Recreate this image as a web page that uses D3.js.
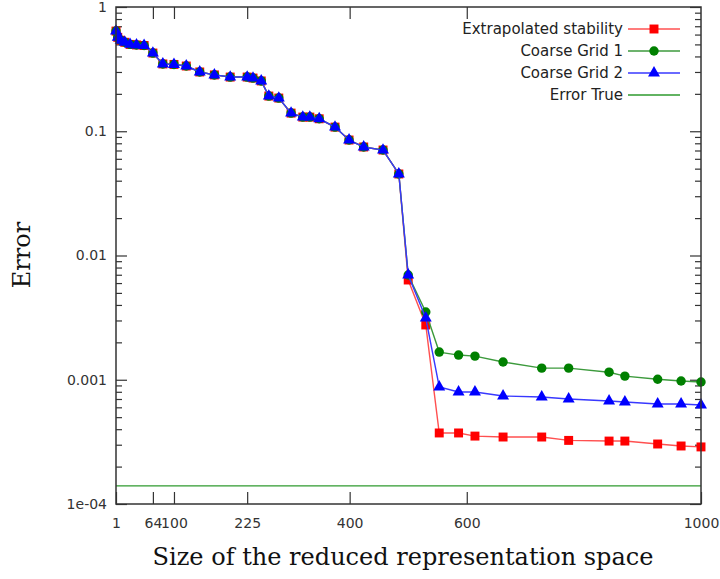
<!DOCTYPE html>
<html>
<head>
<meta charset="utf-8">
<script src="https://cdn.jsdelivr.net/npm/d3@7"></script>
<style>
  body { margin: 0; background: #fff; }
  .tick text { font-family: "DejaVu Sans", sans-serif; font-size: 14px; fill: #333; }
  .axisTitle { font-family: "DejaVu Serif", serif; font-size: 24px; fill: #111; }
  .legendText { font-family: "DejaVu Sans", sans-serif; font-size: 15px; fill: #222; }
</style>
</head>
<body>
<div class="chart"></div>
<script>
// svg size
var svgWidth = 720;
var svgHeight = 579;

// plot box
var margin = { top: 7, right: 19, bottom: 75, left: 116 };
var width = svgWidth - margin.left - margin.right;
var height = svgHeight - margin.top - margin.bottom;

// data
var sizes = [1, 4, 9, 16, 25, 36, 49, 64, 81, 100, 121, 144, 169, 196, 225, 235, 249, 262, 279, 300,
  320, 332, 348, 375, 399, 424, 457, 484, 500, 530, 553, 586, 614, 662, 728, 774, 843, 870, 926, 966, 1000];

var extrapolated = [0.64, 0.57, 0.54, 0.52, 0.50, 0.495, 0.49, 0.426, 0.348, 0.345, 0.335, 0.30, 0.284, 0.273, 0.273, 0.268, 0.254, 0.192, 0.185, 0.140,
  0.130, 0.130, 0.126, 0.108, 0.085, 0.0747, 0.0706, 0.0453, 0.00635, 0.00276, 0.000373, 0.000373, 0.000352, 0.000346, 0.000346, 0.000325, 0.000321, 0.000321, 0.000304, 0.000293, 0.000288];

var coarse1 = [0.64, 0.57, 0.54, 0.52, 0.50, 0.495, 0.49, 0.426, 0.348, 0.345, 0.335, 0.30, 0.284, 0.273, 0.273, 0.268, 0.254, 0.192, 0.185, 0.140,
  0.130, 0.130, 0.126, 0.108, 0.085, 0.0747, 0.0706, 0.0453, 0.00697, 0.00351, 0.00167, 0.00158, 0.00155, 0.00139, 0.00124, 0.00124, 0.00115, 0.00107, 0.00101, 0.000977, 0.000959];

var coarse2 = [0.64, 0.57, 0.54, 0.52, 0.50, 0.495, 0.49, 0.426, 0.348, 0.345, 0.335, 0.30, 0.284, 0.273, 0.273, 0.268, 0.254, 0.192, 0.185, 0.140,
  0.130, 0.130, 0.126, 0.108, 0.085, 0.0747, 0.0706, 0.0453, 0.00697, 0.00314, 0.000875, 0.000797, 0.000797, 0.00074, 0.000726, 0.0007, 0.000675, 0.000662, 0.000638, 0.000638, 0.000626];

var errorTrue = 1.4e-4;

var xTicks = [1, 64, 100, 225, 400, 600, 1000];
var yTicks = [1e-4, 1e-3, 1e-2, 1e-1, 1];
var yTickLabels = ["1e-04", "0.001", "0.01", "0.1", "1"];

var series = [
  { name: "Extrapolated stability", values: extrapolated, color: "#ff0000", line: "#ff5050", marker: "square" },
  { name: "Coarse Grid 1", values: coarse1, color: "#008000", line: "#3c9a3c", marker: "circle" },
  { name: "Coarse Grid 2", values: coarse2, color: "#0000ff", line: "#3838ff", marker: "triangle" }
];

var svg = d3.select(".chart")
  .append("svg")
  .attr("width", svgWidth)
  .attr("height", svgHeight);

var chartGroup = svg.append("g")
  .attr("transform", `translate(${margin.left}, ${margin.top})`);

// scales
var xScale = d3.scaleLinear().domain([1, 1000]).range([0, width]);
var yScale = d3.scaleLog().domain([1e-4, 1]).range([height, 0]);

// minor ticks for the log axis
var minorTicks = [];
[1e-4, 1e-3, 1e-2, 1e-1].forEach(function(d) {
  for (var k = 2; k <= 9; k++) minorTicks.push(d * k);
});

function styleAxis(g) {
  g.selectAll(".domain").remove();
  g.selectAll(".tick line").attr("stroke", "#333").attr("stroke-width", 1.2);
}

// bottom and top x axes (ticks point inward)
chartGroup.append("g")
  .attr("transform", `translate(0, ${height})`)
  .call(d3.axisBottom(xScale).tickValues(xTicks).tickSize(-12).tickPadding(14).tickFormat(d3.format("d")))
  .call(styleAxis);

chartGroup.append("g")
  .call(d3.axisTop(xScale).tickValues(xTicks.slice(1, -1)).tickSize(-12).tickFormat(""))
  .call(styleAxis);

// left and right y axes
chartGroup.append("g")
  .call(d3.axisLeft(yScale).tickValues(yTicks).tickSize(-11).tickPadding(9)
    .tickFormat(function(d, i) { return yTickLabels[i]; }))
  .call(styleAxis);

chartGroup.append("g")
  .call(d3.axisLeft(yScale).tickValues(minorTicks).tickSize(-6).tickFormat(""))
  .call(styleAxis);

chartGroup.append("g")
  .attr("transform", `translate(${width}, 0)`)
  .call(d3.axisRight(yScale).tickValues(yTicks).tickSize(-11).tickFormat(""))
  .call(styleAxis);

chartGroup.append("g")
  .attr("transform", `translate(${width}, 0)`)
  .call(d3.axisRight(yScale).tickValues(minorTicks).tickSize(-6).tickFormat(""))
  .call(styleAxis);

// "Error True" horizontal line
chartGroup.append("line")
  .attr("x1", 0)
  .attr("x2", width)
  .attr("y1", yScale(errorTrue))
  .attr("y2", yScale(errorTrue))
  .attr("stroke", "#2e9a2e")
  .attr("stroke-width", 1.3);

var symbols = { square: d3.symbolSquare, circle: d3.symbolCircle, triangle: d3.symbolTriangle };
var symbolSizes = { square: 80, circle: 70, triangle: 62 };

var line = d3.line()
  .x(function(d) { return xScale(d[0]); })
  .y(function(d) { return yScale(d[1]); });

// lines and markers
series.forEach(function(s) {
  var pts = sizes.map(function(x, i) { return [x, s.values[i]]; });

  chartGroup.append("path")
    .datum(pts)
    .attr("fill", "none")
    .attr("stroke", s.line)
    .attr("stroke-width", 1.4)
    .attr("d", line);

  chartGroup.selectAll(".m-" + s.marker)
    .data(pts)
    .enter()
    .append("path")
    .attr("class", "m-" + s.marker)
    .attr("transform", function(d) { return `translate(${xScale(d[0])}, ${yScale(d[1])})`; })
    .attr("d", d3.symbol().type(symbols[s.marker]).size(symbolSizes[s.marker]))
    .attr("fill", s.color);
});

// frame
chartGroup.append("rect")
  .attr("width", width)
  .attr("height", height)
  .attr("fill", "none")
  .attr("stroke", "#333")
  .attr("stroke-width", 1.5);

// legend
var legendRows = series.concat([{ name: "Error True", line: "#2e9a2e", marker: null }]);
var legend = chartGroup.append("g")
  .attr("transform", `translate(${623 - margin.left}, ${29 - margin.top})`);

legendRows.forEach(function(s, i) {
  var row = legend.append("g").attr("transform", `translate(0, ${i * 22})`);
  row.append("text")
    .attr("class", "legendText")
    .attr("x", 0)
    .attr("dy", "0.35em")
    .attr("text-anchor", "end")
    .text(s.name);
  row.append("line")
    .attr("x1", 5)
    .attr("x2", 57)
    .attr("stroke", s.line)
    .attr("stroke-width", 1.4);
  if (s.marker) {
    row.append("path")
      .attr("transform", "translate(31, 0)")
      .attr("d", d3.symbol().type(symbols[s.marker]).size(symbolSizes[s.marker]))
      .attr("fill", s.color);
  }
});

// axis titles
chartGroup.append("text")
  .attr("class", "axisTitle")
  .attr("transform", "rotate(-90)")
  .attr("x", -(255 - margin.top))
  .attr("y", 22 - margin.left)
  .attr("dy", "0.35em")
  .attr("text-anchor", "middle")
  .text("Error");

chartGroup.append("text")
  .attr("class", "axisTitle")
  .attr("x", 403 - margin.left)
  .attr("y", 557 - margin.top)
  .attr("dy", "0.35em")
  .attr("text-anchor", "middle")
  .text("Size of the reduced representation space");
</script>
</body>
</html>
